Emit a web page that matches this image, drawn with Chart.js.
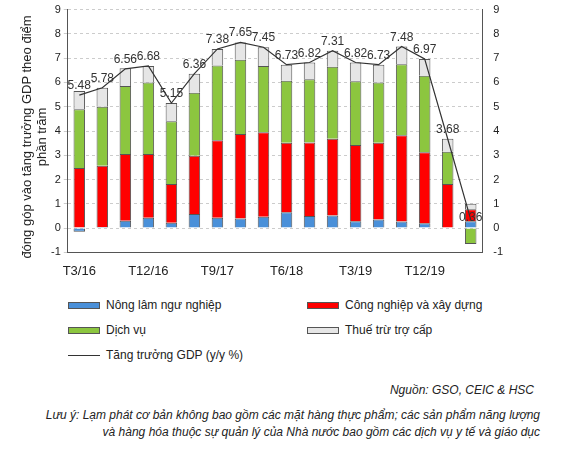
<!DOCTYPE html>
<html><head><meta charset="utf-8">
<script src="https://cdn.jsdelivr.net/npm/chart.js@4"></script>
<style>
body{margin:0;width:562px;height:472px;background:#fff;font-family:Arial,"Liberation Sans",sans-serif;position:relative;overflow:hidden}
#wrap{position:absolute;left:48px;top:0;width:458px;height:282px}
.lg{position:absolute;font-size:12px;color:#222;display:flex;align-items:center}
.sw{width:32px;height:7px;border:1px solid #555;margin-right:6px;box-sizing:border-box}
.src{position:absolute;right:28px;top:383px;font-size:12px;font-style:italic;color:#222}
.note{position:absolute;left:40px;top:407px;width:500px;font-size:12px;font-style:italic;color:#222;text-align:right;line-height:17px}
</style></head><body>
<div id="wrap"><canvas id="c"></canvas></div>
<div class="lg" style="left:68px;top:298px"><div class="sw" style="background:#4a90d9"></div>Nông lâm ngư nghiệp</div>
<div class="lg" style="left:307px;top:298px"><div class="sw" style="background:#ff0000"></div>Công nghiệp và xây dựng</div>
<div class="lg" style="left:68px;top:323px"><div class="sw" style="background:#8cc63f"></div>Dịch vụ</div>
<div class="lg" style="left:307px;top:323px"><div class="sw" style="background:#e6e6e6"></div>Thuế trừ trợ cấp</div>
<div class="lg" style="left:68px;top:348px"><div style="width:32px;height:1px;background:#333;margin-right:6px"></div>Tăng trưởng GDP (y/y %)</div>
<div class="src">Nguồn: GSO, CEIC &amp; HSC</div>
<div class="note">Lưu ý: Lạm phát cơ bản không bao gồm các mặt hàng thực phẩm; các sản phẩm năng lượng và hàng hóa thuộc sự quản lý của Nhà nước bao gồm các dịch vụ y tế và giáo dục</div>
<script>
const categories=["T3/16","T6/16","T9/16","T12/16","T3/17","T6/17","T9/17","T12/17","T3/18","T6/18","T9/18","T12/18","T3/19","T6/19","T9/19","T12/19","T3/20","T6/20"];
const agri=[-0.15,0.05,0.3,0.43,0.22,0.58,0.43,0.4,0.47,0.65,0.5,0.52,0.28,0.35,0.27,0.2,0,0.28];
const industry=[2.48,2.52,2.75,2.62,1.6,2.4,3.19,3.48,3.48,2.87,3.03,3.16,3.14,3.17,3.56,2.92,1.82,0.5];
const services=[2.42,2.43,2.8,2.95,2.58,2.6,3.08,3.05,2.73,2.55,2.6,2.97,2.63,2.48,2.92,3.16,1.33,-0.65];
const taxes=[0.75,0.78,0.73,0.68,0.75,0.78,0.68,0.72,0.77,0.66,0.69,0.66,0.77,0.73,0.73,0.69,0.53,0.22];
const gdp=[5.48,5.78,6.56,6.68,5.15,6.36,7.38,7.65,7.45,6.73,6.82,7.31,6.82,6.73,7.48,6.97,3.68,0.36];
const labelPlugin={id:'lbl',afterDatasetsDraw(ch){const m=ch.getDatasetMeta(0);const ctx=ch.ctx;ctx.save();ctx.font='12px Arial';ctx.fillStyle='#333';ctx.textAlign='center';
m.data.forEach((p,i)=>{ctx.fillText(gdp[i].toFixed(2),p.x,p.y-(i==17?-2:6));});ctx.restore();}};
const bar=(l,d,c)=>({type:'bar',label:l,data:d,backgroundColor:c,borderColor:'#555',borderWidth:1,stack:'s',barPercentage:0.5,categoryPercentage:1,order:2});
new Chart(document.getElementById('c'),{data:{labels:categories,datasets:[
{type:'line',label:'GDP',data:gdp,borderColor:'#333',borderWidth:1.2,pointRadius:0,order:1,tension:0},
bar('a',agri,'#4a90d9'),bar('i',industry,'#ff0000'),bar('s',services,'#8cc63f'),bar('t',taxes,'#e6e6e6')]},
options:{responsive:true,maintainAspectRatio:false,animation:false,layout:{padding:{top:8,left:0,right:0}},
plugins:{legend:{display:false},tooltip:{enabled:false}},
scales:{x:{stacked:true,grid:{display:false},border:{color:'#555'},ticks:{color:'#222',font:{size:13},autoSkip:false,maxRotation:0,callback:(v,i)=>i%3==0?categories[i]:''}},
y:{stacked:true,min:-1,max:9,ticks:{stepSize:1,color:'#222',font:{size:11}},grid:{color:'#ccc',tickLength:4},border:{color:'#555',dash:[3,3]},
title:{display:false}},
y2:{position:'right',min:-1,max:9,ticks:{stepSize:1,color:'#222',font:{size:11}},grid:{display:false},border:{color:'#555'}}}},
plugins:[labelPlugin]});
</script>
<div style="position:absolute;left:-96px;top:122px;width:260px;transform:rotate(-90deg);text-align:center;font-size:13px;color:#222;line-height:15px">đóng góp vào tăng trưởng GDP theo điểm<br>phần trăm</div>
</body></html>
